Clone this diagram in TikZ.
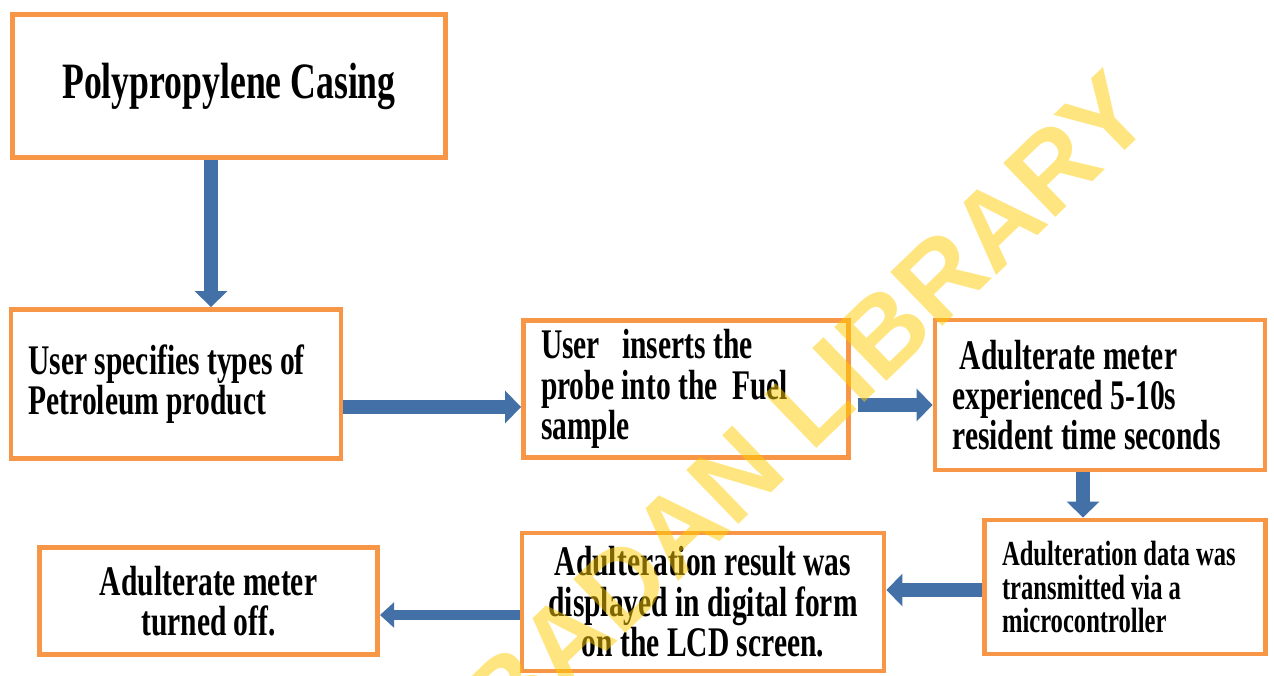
\documentclass[tikz,border=0pt]{standalone}
\usepackage{fontspec}
\usetikzlibrary{calc,arrows.meta}
\newfontfamily\boxfont[FakeStretch=0.7]{Liberation Serif}
\newfontfamily\markfont{Liberation Sans}
\definecolor{boxorange}{HTML}{F79646}
\definecolor{flowblue}{HTML}{4470A8}
\definecolor{markyellow}{HTML}{FFCC00}

\begin{document}
\begin{tikzpicture}[
    box/.style={draw=boxorange, line width=2.8pt, fill=white, inner xsep=0.35cm, inner ysep=0pt,
        font=\boxfont\bfseries\fontsize{24}{23}\selectfont},
    flow/.style={draw=flowblue, line width=7.5pt, -{Triangle[width=18pt,length=9pt]}}
]
    \useasboundingbox (0,0) rectangle (25.48,13.5);

    % Top box
    \node[box, minimum width=8.66cm, minimum height=2.86cm,
        font=\boxfont\bfseries\fontsize{29}{29}\selectfont] (casing) at (4.58,11.78) {Polypropylene Casing};

    % Middle row
    \node[box, text width=5.9cm, align=flush left, minimum height=2.98cm] (specify) at (3.52,5.82)
        {User specifies types of\\Petroleum product};
    \node[box, text width=5.8cm, align=flush left, minimum height=2.74cm] (insert) at (13.72,5.72)
        {User\ \ \ inserts the\\probe into the\ \ Fuel\\sample};
    \node[box, text width=5.9cm, align=flush left, minimum height=3.0cm] (experience) at (22.0,5.6)
        {\ Adulterate meter\\experienced 5-10s\\resident time seconds};

    % Bottom row
    \node[box, text width=4.92cm, align=flush left, minimum height=2.68cm,
        font=\boxfont\bfseries\fontsize{20}{19}\selectfont] (transmit) at (22.5,1.76)
        {Adulteration data was\\transmitted via a\\microcontroller};
    \node[box, minimum width=7.24cm, minimum height=2.76cm, align=center] (display) at (14.06,1.46)
        {Adulteration result was\\displayed in digital form\\on the LCD screen.};
    \node[box, minimum width=6.76cm, minimum height=2.14cm, align=center] (off) at (4.17,1.48)
        {Adulterate meter\\turned off.};

    % Arrows
    \draw[flow] ([xshift=-0.36cm]casing.south) -- ([xshift=-0.36cm]casing.south |- specify.north);
    \draw[flow] ([yshift=-0.46cm]specify.east) -- ([yshift=-0.46cm]specify.east -| insert.west);
    \draw[flow] ([xshift=0.14cm, yshift=-0.32cm]insert.east) -- ([yshift=-0.32cm]insert.east -| experience.west);
    \draw[flow] ([xshift=-0.34cm]experience.south) -- ([xshift=-0.34cm]experience.south |- transmit.north);
    \draw[flow] ([yshift=-0.06cm]transmit.west) -- ([yshift=-0.06cm]transmit.west -| display.east);
    \draw[flow, line width=5.5pt, -{Triangle[width=14pt,length=8pt]}]
        ([yshift=-0.26cm]display.west) -- ([yshift=-0.26cm]display.west -| off.east);

    % Watermark
    \begin{scope}
        \clip (0,0) rectangle (25.48,13.5);
        \node[text=markyellow, opacity=0.5, rotate=44,
            font=\markfont\bfseries\fontsize{62}{62}\selectfont] (mark) at (15.9,5.15) {IBADAN LIBRARY};
    \end{scope}
\end{tikzpicture}
\end{document}
